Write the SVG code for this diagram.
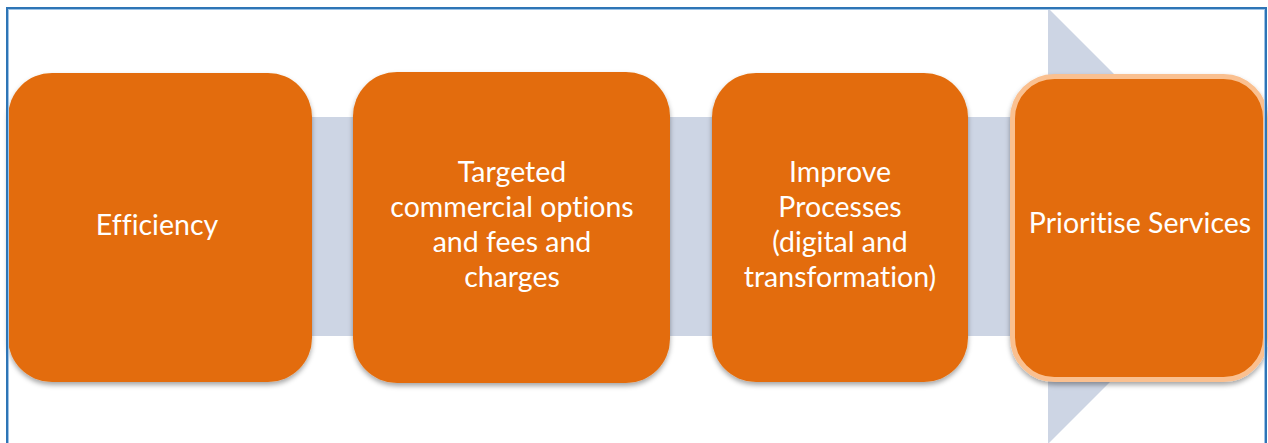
<svg xmlns="http://www.w3.org/2000/svg" width="1268" height="443" viewBox="0 0 1268 443">
  <defs>
    <filter id="shadow" x="-10%" y="-10%" width="120%" height="125%">
      <feDropShadow dx="0" dy="3" stdDeviation="2.5" flood-color="#000" flood-opacity="0.35"/>
    </filter>
    <style>
      .step { fill: #E36C0A; filter: url(#shadow); }
      .step-hl { fill: #E36C0A; stroke: #FAC090; stroke-width: 5; filter: url(#shadow); }
      .label { font-family: Lato, "Open Sans", sans-serif; font-size: 28.5px; fill: #FFFFFF; text-anchor: middle; font-variant-ligatures: none; }
      .flow { fill: #CDD5E4; }
    </style>
  </defs>

  <rect x="0" y="0" width="1268" height="443" fill="#FFFFFF"/>

  <!-- background process arrow -->
  <g id="connectors">
    <rect class="flow" x="8" y="117" width="1042" height="219"/>
    <polygon class="flow" points="1048,8 1266,226 1048,444"/>
  </g>

  <g id="node-efficiency">
    <rect class="step" x="8" y="73" width="304" height="309" rx="44" ry="44"/>
    <text class="label" x="157" y="235">Efficiency</text>
  </g>

  <g id="node-targeted">
    <rect class="step" x="353" y="72" width="317" height="311" rx="44" ry="44"/>
    <text class="label" x="512" y="182">Targeted</text>
    <text class="label" x="512" y="217">commercial options</text>
    <text class="label" x="512" y="252">and fees and</text>
    <text class="label" x="512" y="287">charges</text>
  </g>

  <g id="node-improve">
    <rect class="step" x="712" y="73" width="256" height="309" rx="44" ry="44"/>
    <text class="label" x="840" y="182">Improve</text>
    <text class="label" x="840" y="217">Processes</text>
    <text class="label" x="840" y="252">(digital and</text>
    <text class="label" x="840" y="287">transformation)</text>
  </g>

  <g id="node-prioritise">
    <rect class="step-hl" x="1012.5" y="76.5" width="253" height="303" rx="42" ry="42"/>
    <text class="label" x="1140" y="233">Prioritise Services</text>
  </g>

  <!-- outer frame -->
  <rect x="7" y="8" width="1259" height="440" fill="none" stroke="#2E75B6" stroke-width="2"/>
  <rect x="8.5" y="9.5" width="1256" height="440" fill="none" stroke="#9DC3E6" stroke-width="1"/>
</svg>
